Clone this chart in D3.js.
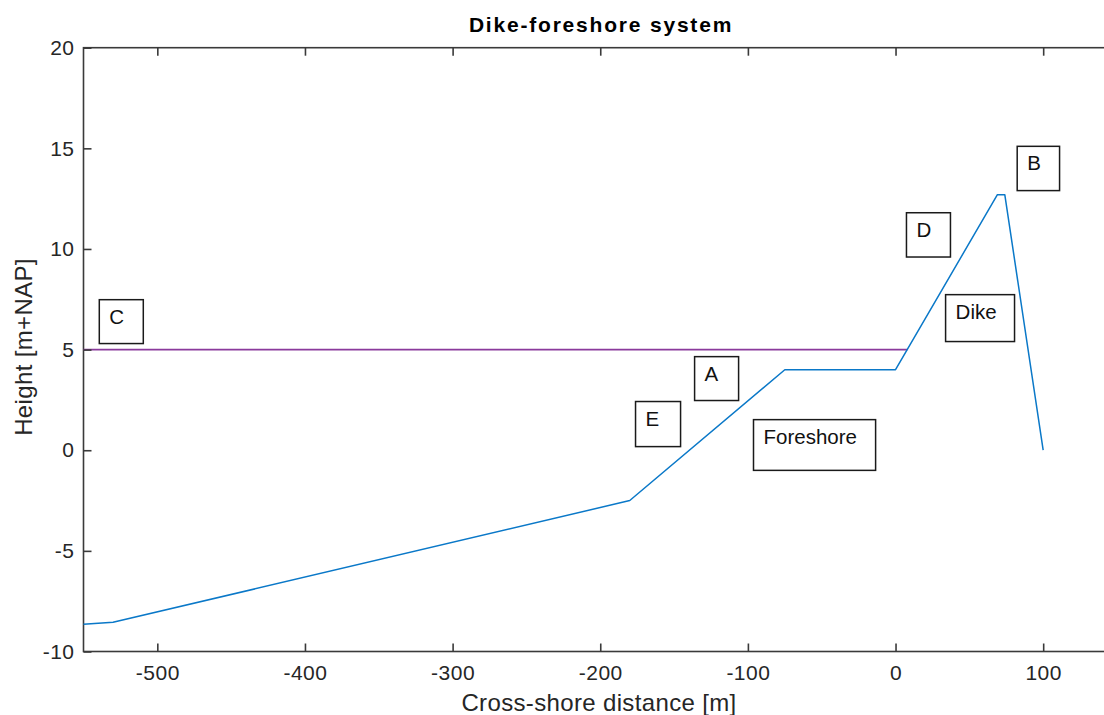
<!DOCTYPE html>
<html>
<head>
<meta charset="utf-8">
<script src="https://cdn.jsdelivr.net/npm/d3@7"></script>
<style>
  html, body { margin: 0; padding: 0; background: #fff; overflow: hidden; }
  svg { display: block; font-family: "Liberation Sans", Arial, Helvetica, sans-serif; }
</style>
</head>
<body>
<svg id="chart" width="1104" height="715"></svg>
<script>
// Bed profile of the dike-foreshore cross-section (distance [m], height [m+NAP])
const profileX = [-550, -530, -180, -75, 0, 69, 74, 100];
const profileZ = [-8.65, -8.55, -2.5, 4.0, 4.0, 12.7, 12.7, 0];

// Still water level
const waterX = [-550, 8];
const waterZ = [5, 5];

// Axis ticks
const xTicks = [-500, -400, -300, -200, -100, 0, 100];
const yTicks = [-10, -5, 0, 5, 10, 15, 20];

// Labelled text boxes: [label, left, right, top, bottom] in data units
const boxLabels = ["C", "B", "D", "Dike", "A", "E", "Foreshore"];
const boxLeft   = [-539.3, 82.4, 7.4, 33.9, -136.1, -176.1, -96.2];
const boxRight  = [-509.5, 111.1, 37.2, 80.6, -106.3, -145.6, -13.5];
const boxTop    = [7.48, 15.1, 11.8, 7.73, 4.65, 2.42, 1.52];
const boxBottom = [5.30, 12.9, 9.6, 5.4, 2.47, 0.18, -1.0];

const svg = d3.select("#chart");

// Plot box: xlim [-550, 150], ylim [-10, 20]; the right part runs past the window
const x = d3.scaleLinear().domain([-550, 150]).range([83.5, 1117]);
const y = d3.scaleLinear().domain([-10, 20]).range([651.5, 47.7]);

const axisColor = "#3a3a3a";
const textColor = "#262626";
const tickLen = 8;
const plainNumber = d => String(d);   // hyphen-minus, as in the original figure

// axes frame
svg.append("rect")
  .attr("x", x(-550)).attr("y", y(20))
  .attr("width", x(150) - x(-550)).attr("height", y(-10) - y(20))
  .attr("fill", "none").attr("stroke", axisColor).attr("stroke-width", 1.6);

// lines
const line = d3.line().x(d => x(d[0])).y(d => y(d[1]));
svg.append("path")
  .datum(waterX.map((v, i) => [v, waterZ[i]]))
  .attr("d", line).attr("fill", "none")
  .attr("stroke", "#8a3a9c").attr("stroke-width", 1.6);
svg.append("path")
  .datum(profileX.map((v, i) => [v, profileZ[i]]))
  .attr("d", line).attr("fill", "none")
  .attr("stroke", "#0a78c8").attr("stroke-width", 1.5)
  .attr("stroke-linejoin", "round");

// bottom and top axes (ticks pointing inward)
const xb = svg.append("g").attr("transform", `translate(0,${y(-10)})`)
  .call(d3.axisBottom(x).tickValues(xTicks).tickFormat(plainNumber)
    .tickSizeInner(-tickLen).tickSizeOuter(0).tickPadding(14));
const xt = svg.append("g").attr("transform", `translate(0,${y(20)})`)
  .call(d3.axisTop(x).tickValues(xTicks).tickSizeInner(-tickLen).tickSizeOuter(0).tickFormat(""));
// left and right axes
const yl = svg.append("g").attr("transform", `translate(${x(-550)},0)`)
  .call(d3.axisLeft(y).tickValues(yTicks).tickFormat(plainNumber)
    .tickSizeInner(-tickLen).tickSizeOuter(0).tickPadding(9));
const yr = svg.append("g").attr("transform", `translate(${x(150)},0)`)
  .call(d3.axisRight(y).tickValues(yTicks).tickSizeInner(-tickLen).tickSizeOuter(0).tickFormat(""));

[xb, xt, yl, yr].forEach(g => {
  g.select(".domain").remove();
  g.selectAll(".tick line").attr("stroke", axisColor).attr("stroke-width", 1.6);
  g.selectAll(".tick text")
    .attr("fill", textColor)
    .style("font-size", "21px")
    .style("letter-spacing", "0.5px")
    .style("font-family", "'Liberation Sans', Arial, sans-serif");
});

// text boxes
const boxes = svg.append("g");
boxLabels.forEach((lab, i) => {
  const x0 = x(boxLeft[i]), x1 = x(boxRight[i]);
  const y0 = y(boxTop[i]), y1 = y(boxBottom[i]);
  boxes.append("rect")
    .attr("x", x0).attr("y", y0)
    .attr("width", x1 - x0).attr("height", y1 - y0)
    .attr("fill", "none").attr("stroke", "#1a1a1a").attr("stroke-width", 1.5);
  boxes.append("text")
    .attr("x", x0 + 10).attr("y", y0 + 24)
    .attr("fill", "#111")
    .style("font-size", "20.5px")
    .text(lab);
});

// title and axis labels
svg.append("text")
  .attr("x", 601).attr("y", 32)
  .attr("text-anchor", "middle")
  .attr("fill", "#000")
  .style("font-size", "21px").style("font-weight", "bold")
  .style("letter-spacing", "1.8px")
  .text("Dike-foreshore system");

svg.append("text")
  .attr("x", 599).attr("y", 711)
  .attr("text-anchor", "middle")
  .attr("fill", textColor)
  .style("font-size", "24px")
  .style("letter-spacing", "0.35px")
  .text("Cross-shore distance [m]");

svg.append("text")
  .attr("transform", `translate(32,${347}) rotate(-90)`)
  .attr("text-anchor", "middle")
  .attr("fill", textColor)
  .style("font-size", "24px")
  .style("letter-spacing", "0.35px")
  .text("Height [m+NAP]");
</script>
</body>
</html>
